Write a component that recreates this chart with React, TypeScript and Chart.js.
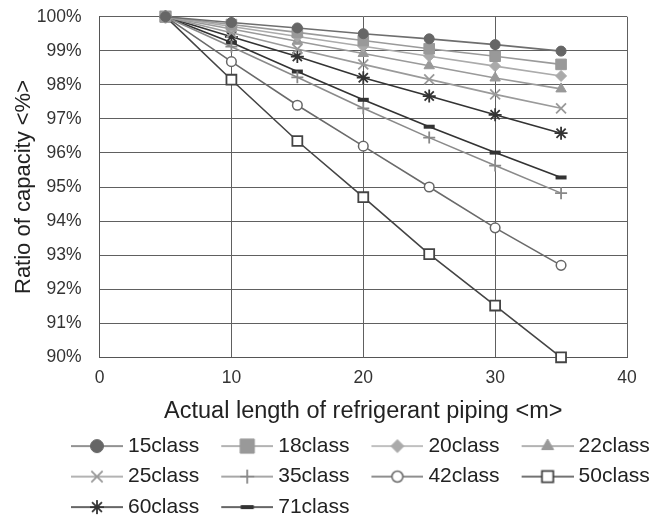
import React, { useEffect, useRef } from 'react';
import { Chart, registerables } from 'chart.js';
import { drawPoint } from 'chart.js/helpers';

Chart.register(...registerables);

// ---- data ----
const pipingLengths = [5, 10, 15, 20, 25, 30, 35];
const seriesNames = ['15class', '18class', '20class', '22class', '25class', '35class', '42class', '50class', '60class', '71class'];
const class15 = [100, 99.83, 99.67, 99.5, 99.35, 99.18, 98.99];
const class18 = [100, 99.77, 99.54, 99.3, 99.06, 98.84, 98.6];
const class20 = [100, 99.71, 99.42, 99.13, 98.84, 98.55, 98.26];
const class22 = [100, 99.64, 99.28, 98.92, 98.56, 98.2, 97.88];
const class25 = [100, 99.53, 99.05, 98.6, 98.16, 97.72, 97.31];
const class35 = [100, 99.12, 98.22, 97.31, 96.45, 95.63, 94.82];
const class42 = [100, 98.68, 97.4, 96.2, 95.0, 93.8, 92.7];
const class50 = [100, 98.15, 96.35, 94.7, 93.03, 91.52, 90.0];
const class60 = [100, 99.41, 98.83, 98.21, 97.67, 97.12, 96.58];
const class71 = [100, 99.24, 98.39, 97.56, 96.77, 96.01, 95.28];
const seriesValues = [class15, class18, class20, class22, class25, class35, class42, class50, class60, class71];
const xTickValues = [0, 10, 20, 30, 40];
const yTickValues = [90, 91, 92, 93, 94, 95, 96, 97, 98, 99, 100];
const xTitle = 'Actual length of refrigerant piping <m>';
const yTitle = 'Ratio of capacity <%>';

// ---- styles ----
const FONT = "'Liberation Sans', Arial, Helvetica, sans-serif";
type St = { line: string; stroke: string; fill: string; style: string; r: number; bw: number; lr: number };
const styles: St[] = [
  { line: '#6e6e6e', stroke: '#666666', fill: '#666666', style: 'circle', r: 5, bw: 1, lr: 6.5 },
  { line: '#9a9a9a', stroke: '#999999', fill: '#999999', style: 'rect', r: 7.5, bw: 1, lr: 10 },
  { line: '#ababab', stroke: '#aaaaaa', fill: '#aaaaaa', style: 'rectRot', r: 5.5, bw: 1, lr: 6.5 },
  { line: '#9a9a9a', stroke: '#999999', fill: '#999999', style: 'triangle', r: 6, bw: 1, lr: 7 },
  { line: '#9a9a9a', stroke: '#999999', fill: '#999999', style: 'crossRot', r: 7, bw: 1.8, lr: 8 },
  { line: '#8a8a8a', stroke: '#888888', fill: '#888888', style: 'cross', r: 6, bw: 1.8, lr: 7 },
  { line: '#6a6a6a', stroke: '#666666', fill: '#ffffff', style: 'circle', r: 4.8, bw: 1.5, lr: 5.5 },
  { line: '#444444', stroke: '#444444', fill: '#ffffff', style: 'rect', r: 7, bw: 1.8, lr: 8 },
  { line: '#333333', stroke: '#333333', fill: '#333333', style: 'star', r: 6.5, bw: 1.8, lr: 7 },
  { line: '#333333', stroke: '#333333', fill: '#333333', style: 'line', r: 5.5, bw: 4, lr: 6.5 },
];

const LEG_FONT = 21;
const LEG_PAD = 9.5;
const LEG_BOX = 59;
const LEG_LEFT = 49;

function legendImage(s: St): HTMLCanvasElement {
  const c = document.createElement('canvas');
  c.width = 70;
  c.height = 22;
  const ctx = c.getContext('2d')!;
  ctx.strokeStyle = s.line;
  ctx.lineWidth = 1.6;
  ctx.beginPath();
  ctx.moveTo(18, 11);
  ctx.lineTo(70, 11);
  ctx.stroke();
  ctx.fillStyle = s.fill;
  ctx.strokeStyle = s.stroke;
  ctx.lineWidth = s.bw;
  drawPoint(ctx, { pointStyle: s.style as any, radius: s.lr, borderWidth: s.bw, rotation: 0 } as any, 44, 11);
  return c;
}

const legendShift = {
  id: 'legendShift',
  afterLayout(chart: any) {
    const lg = chart.legend;
    if (!lg) return;
    lg.left = LEG_LEFT;
    lg.right = LEG_LEFT + 700;
  },
};

export default function App() {
  const ref = useRef<HTMLCanvasElement | null>(null);
  useEffect(() => {
    if (!ref.current) return;
    const images = styles.map(legendImage);
    const datasets = seriesNames.map((name, i) => {
      const s = styles[i];
      return {
        label: name,
        data: pipingLengths.map((x, j) => ({ x, y: seriesValues[i][j] })),
        borderColor: s.line,
        borderWidth: 1.6,
        backgroundColor: s.fill,
        pointStyle: s.style as any,
        pointRadius: s.r,
        pointHoverRadius: s.r,
        pointBackgroundColor: s.fill,
        pointBorderColor: s.stroke,
        pointBorderWidth: s.bw,
        tension: 0,
        clip: false as any,
      };
    });
    const chart = new Chart(ref.current, {
      type: 'line',
      data: { datasets },
      options: {
        animation: false,
        responsive: false,
        devicePixelRatio: 1,
        layout: { autoPadding: false, padding: { left: 4, right: 25, top: 16.7, bottom: -5.6 } },
        scales: {
          x: {
            type: 'linear',
            min: 0,
            max: 40,
            afterBuildTicks: (axis: any) => {
              axis.ticks = xTickValues.map((v) => ({ value: v }));
            },
            ticks: { padding: 10, color: '#333', font: { family: FONT, size: 17.5 } },
            grid: { color: '#606060', lineWidth: 1, drawTicks: false },
            border: { color: '#555', width: 1 },
            title: {
              display: true,
              text: xTitle,
              color: '#222',
              font: { family: FONT, size: 23.5 },
              padding: { top: -0.4, bottom: 0 },
            },
          },
          y: {
            type: 'linear',
            min: 90,
            max: 100,
            afterBuildTicks: (axis: any) => {
              axis.ticks = yTickValues.map((v) => ({ value: v }));
            },
            afterFit: (axis: any) => {
              axis.paddingTop = 10;
              axis.paddingBottom = 10;
            },
            ticks: {
              padding: 18,
              color: '#333',
              font: { family: FONT, size: 17.5 },
              callback: (v: any) => v + '%',
            },
            grid: { color: '#606060', lineWidth: 1, drawTicks: false },
            border: { color: '#555', width: 1 },
            title: {
              display: true,
              text: yTitle,
              color: '#222',
              font: { family: FONT, size: 22 },
              padding: { top: 6.8, bottom: -18.4 },
            },
          },
        },
        plugins: {
          tooltip: { enabled: false },
          legend: {
            position: 'bottom',
            align: 'start',
            labels: {
              usePointStyle: true,
              pointStyleWidth: LEG_BOX,
              padding: LEG_PAD,
              color: '#222',
              font: { family: FONT, size: LEG_FONT },
              generateLabels: (ch: any) =>
                ch.data.datasets.map((d: any, i: number) => ({
                  text: d.label,
                  pointStyle: images[i],
                  fillStyle: d.backgroundColor,
                  strokeStyle: d.borderColor,
                  lineWidth: 0,
                  hidden: false,
                  datasetIndex: i,
                  fontColor: '#222',
                })),
            },
          },
        },
      },
      plugins: [legendShift],
    } as any);
    return () => chart.destroy();
  }, []);
  return (
    <div style={{ position: 'fixed', left: 0, top: 0, width: 652, height: 522, background: '#fff' }}>
      <canvas ref={ref} width={652} height={522} style={{ display: 'block', width: 652, height: 522 }} />
    </div>
  );
}
